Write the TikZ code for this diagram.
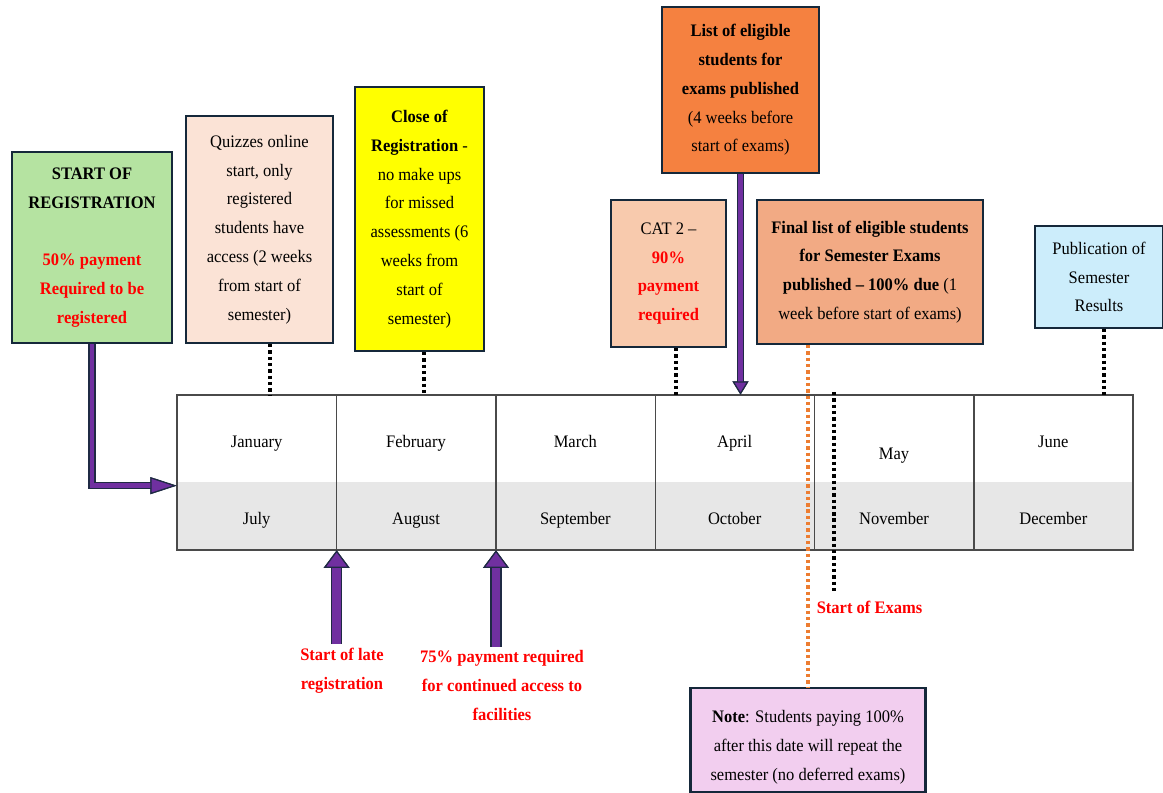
\documentclass[tikz,border=0pt]{standalone}
\usepackage{fontspec}
\setmainfont{Liberation Serif}[FakeStretch=0.94]
\usetikzlibrary{arrows.meta}

\definecolor{regGreen}{HTML}{B5E3A1}
\definecolor{quizPeach}{HTML}{FBE3D6}
\definecolor{closeYellow}{HTML}{FFFF00}
\definecolor{listOrange}{HTML}{F58140}
\definecolor{catPeach}{HTML}{F8CAAD}
\definecolor{finalSalmon}{HTML}{F2AA84}
\definecolor{resultBlue}{HTML}{CCEDFB}
\definecolor{notePink}{HTML}{F2CEEF}
\definecolor{boxNavy}{HTML}{15283A}
\definecolor{rowGray}{HTML}{E7E7E7}
\definecolor{gridGray}{HTML}{4A4A4A}
\definecolor{arrowPurple}{HTML}{7030A0}
\definecolor{arrowNavy}{HTML}{1F2A44}
\definecolor{dotOrange}{HTML}{ED7D31}
\definecolor{payRed}{HTML}{FF0000}

\newcommand{\payred}[1]{\textcolor{payRed}{\textbf{#1}}}

\tikzset{
  box/.style={draw=boxNavy, line width=1.2pt, align=center, inner sep=0pt},
  topcell/.style={inner sep=0pt, minimum width=3.1867cm, minimum height=1.74cm},
  botcell/.style={topcell, fill=rowGray, minimum height=1.36cm},
  month/.style={inner sep=0pt, text height=1.6ex, text depth=0.45ex},
  redlabel/.style={align=center, text=payRed, font=\fontsize{10}{16.4}\selectfont\bfseries, inner sep=2pt},
  blackdots/.style={draw=black, line width=1.9pt, dash pattern=on 1.9pt off 1.7pt},
  orangedots/.style={blackdots, draw=dotOrange},
  blockarrow/.style n args={4}{draw=arrowPurple, line width=#1,
    -{Triangle[length=#3,width=#4,fill=arrowPurple,color=arrowNavy,line width=0.7pt]},
    preaction={draw=arrowNavy, line width=#2, -{Triangle[length=#3,width=#4,line width=0.7pt]}}},
}

\begin{document}
\begin{tikzpicture}[x=0.02cm, y=-0.02cm, font=\fontsize{10}{16.4}\selectfont]
\useasboundingbox (0,0) rectangle (1163,793);

% boxes above the months
\node[box, fill=regGreen, minimum width=3.2cm, minimum height=3.82cm] (startreg) at (92,247.5)
  {\textbf{START OF}\\\textbf{REGISTRATION}\\[16pt]\payred{50\% payment}\\\payred{Required to be}\\\payred{registered}};
\node[box, fill=quizPeach, minimum width=2.94cm, minimum height=4.54cm] (quiz) at (259.5,229.5)
  {Quizzes online\\start, only\\registered\\students have\\access (2 weeks\\from start of\\semester)};
\node[box, fill=closeYellow, minimum width=2.58cm, minimum height=5.28cm] (close) at (419.5,219)
  {\textbf{Close of}\\\textbf{Registration} -\\no make ups\\for missed\\assessments (6\\weeks from\\start of\\semester)};
\node[box, fill=listOrange, minimum width=3.14cm, minimum height=3.32cm] (listelig) at (740.5,90)
  {\textbf{List of eligible}\\\textbf{students for}\\\textbf{exams published}\\(4 weeks before\\start of exams)};
\node[box, fill=catPeach, minimum width=2.3cm, minimum height=2.94cm] (cat) at (668.5,273.5)
  {CAT 2 --\\\payred{90\%}\\\payred{payment}\\\payred{required}};
\node[box, fill=finalSalmon, minimum width=4.52cm, minimum height=2.88cm] (final) at (870,272)
  {\textbf{Final list of eligible students}\\\textbf{for Semester Exams}\\\textbf{published -- 100\% due} (1\\week before start of exams)};
\node[box, fill=resultBlue, minimum width=2.56cm, minimum height=2.04cm] (results) at (1099,277)
  {Publication of\\Semester\\Results};

% the months
\foreach \up/\down/\drop [count=\i] in {January/July/0, February/August/0, March/September/0,
    April/October/0, May/November/12, June/December/0} {
  \node[topcell] (top\i) at ({177+(\i-0.5)*159.33},438.5) {};
  \node[botcell] (bot\i) at ({177+(\i-0.5)*159.33},516) {};
  \node[month] at ([yshift=-0.09cm-\drop*0.02cm]top\i.center) {\up};
  \node[month] at ([yshift=-0.07cm]bot\i.center) {\down};
}
\foreach \i in {1,...,5}
  \draw[gridGray, line width=0.7pt] (top\i.north east) -- (bot\i.south east);
\draw[draw=gridGray, line width=1pt] (top1.north west) rectangle (bot6.south east);

% labels below
\node[redlabel] (latereg) at (342,670.5) {Start of late\\registration};
\node[redlabel] (contaccess) at (502,685.5) {75\% payment required\\for continued access to\\facilities};
\node[redlabel] (exams) at (869.5,607) {Start of Exams};
\node[box, fill=notePink, minimum width=4.7cm, minimum height=2.08cm, text height=1.68cm] (note) at (808,740)
  {\textbf{Note}: Students paying 100\%\\after this date will repeat the\\semester (no deferred exams)};

% dotted markers
\draw[blackdots] ([xshift=0.21cm]quiz.south) -- ([xshift=0.21cm]quiz.south |- top1.north);
\draw[blackdots] ([xshift=0.09cm]close.south) -- ([xshift=0.09cm]close.south |- top2.north);
\draw[blackdots] ([xshift=0.15cm]cat.south) -- ([xshift=0.15cm]cat.south |- top4.north);
\draw[blackdots] ([xshift=0.1cm]results.south) -- ([xshift=0.1cm]results.south |- top6.north);
\coordinate (examline) at (834,392);
\draw[blackdots] (examline) -- ([yshift=0.12cm]examline |- exams.north);
\draw[orangedots] (final.south -| note.north) -- (note.north);

% purple arrows
\draw[blockarrow={2.5pt}{4pt}{15pt}{9.6pt}] (startreg.south) |- ([yshift=-0.08cm]bot1.north west);
\draw[blockarrow={2.5pt}{4pt}{7.5pt}{9pt}] (listelig.south) -- (listelig.south |- top4.north);
\draw[blockarrow={4.8pt}{6.3pt}{10pt}{14.7pt}] (latereg.north -| bot1.south east) -- (bot1.south east);
\draw[blockarrow={4.8pt}{6.3pt}{10pt}{14.7pt}] (contaccess.north -| bot2.south east) -- (bot2.south east);
\end{tikzpicture}
\end{document}
